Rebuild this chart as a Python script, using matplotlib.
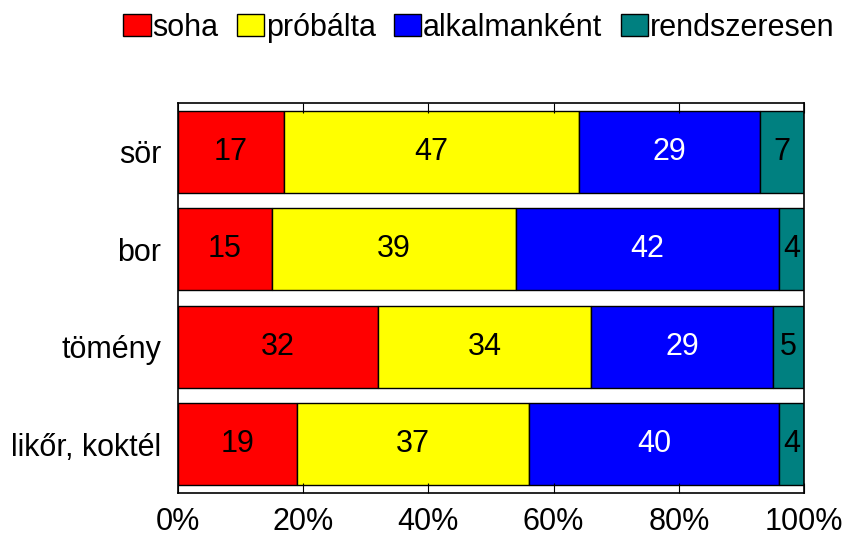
import numpy as np
import matplotlib.pyplot as plt

plt.rcParams['font.family'] = ['Liberation Sans', 'DejaVu Sans']

# Data
categories = ["sör", "bor", "tömény", "likőr, koktél"]
series_names = ["soha", "próbálta", "alkalmanként", "rendszeresen"]
soha = [17, 15, 32, 19]
probalta = [47, 39, 34, 37]
alkalmankent = [29, 42, 29, 40]
rendszeresen = [7, 4, 5, 4]
colors = ["#ff0000", "#ffff00", "#0000ff", "#008080"]
text_colors = ["black", "black", "white", "black"]

fs = 22

fig = plt.figure(figsize=(8.43, 5.37), dpi=100)
ax = fig.add_axes([0.211, 0.082, 0.743, 0.726])

y = np.arange(len(categories))
left = np.zeros(len(categories))
for vals, name, col, tcol in zip([soha, probalta, alkalmankent, rendszeresen],
                                 series_names, colors, text_colors):
    vals = np.array(vals)
    bars = ax.barh(y, vals, left=left, height=0.84, color=col,
                   edgecolor="black", linewidth=1, label=name)
    for b, v in zip(bars, vals):
        ax.text(b.get_x() + b.get_width() / 2, b.get_y() + b.get_height() / 2,
                str(v), ha="center", va="center", fontsize=fs, color=tcol)
    left += vals

ax.set_xlim(0, 100)
ax.set_ylim(3.5, -0.5)
ax.set_yticks(y)
ax.set_yticklabels(categories, fontsize=fs)
ax.set_xticks(np.arange(0, 101, 20))
ax.set_xticklabels([f"{v}%" for v in range(0, 101, 20)], fontsize=fs)
ax.tick_params(axis="x", direction="in", top=True, length=7, pad=10)
ax.tick_params(axis="y", length=0, pad=12)
for s in ax.spines.values():
    s.set_linewidth(1.2)

fig.legend(loc="upper right", bbox_to_anchor=(1.015, 1.016), ncol=4, fontsize=fs,
           frameon=False, handlelength=0.9, handleheight=0.7,
           handletextpad=0.05, columnspacing=0.6, borderaxespad=0.3)

fig.savefig("out.png", dpi=100)
